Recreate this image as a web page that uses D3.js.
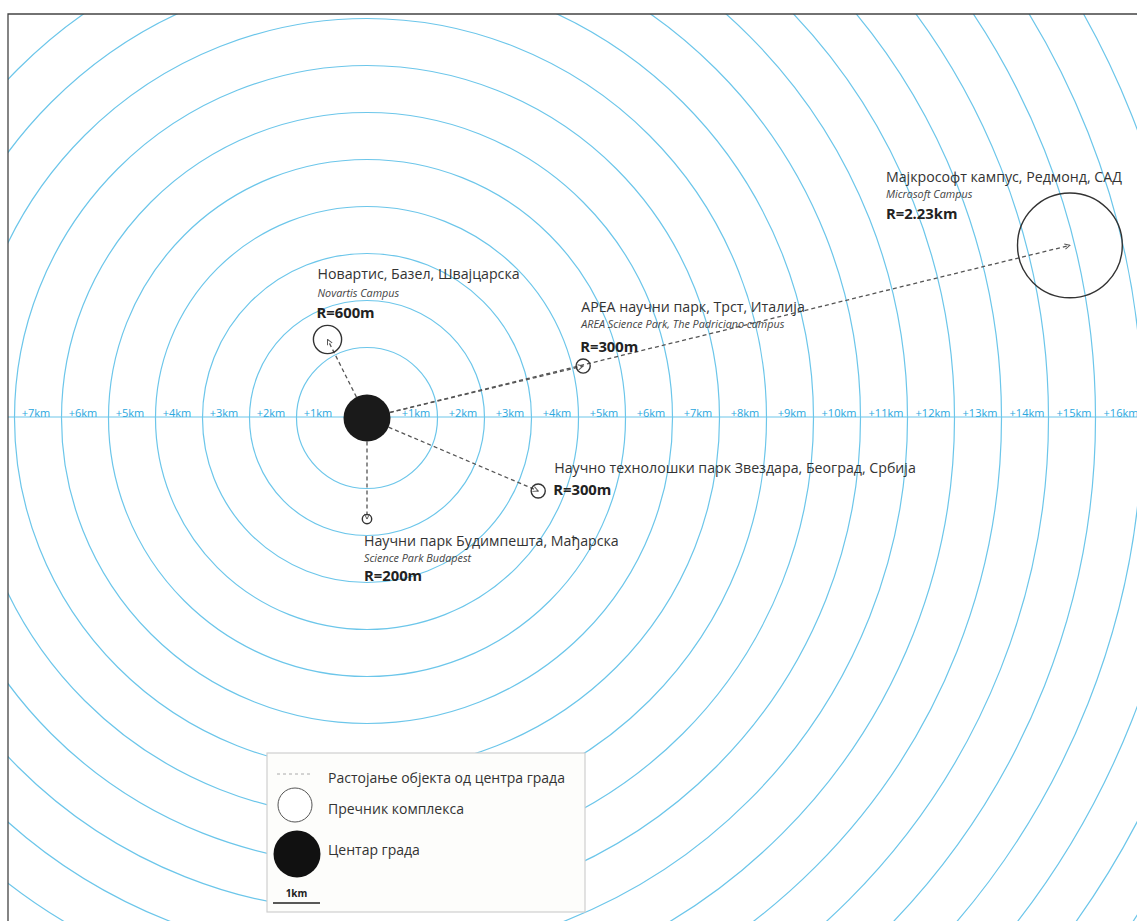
<!DOCTYPE html>
<html><head><meta charset="utf-8">
<script src="https://cdn.jsdelivr.net/npm/d3@7"></script>
<style>
html,body{margin:0;padding:0;background:#fff;}
svg{display:block;font-family:"Open Sans","Noto Sans",sans-serif;}
</style></head>
<body><svg id="c" width="1137" height="921"></svg>
<script>
// ---- data ----
const ringKm = d3.range(1, 21);                 // rings every 1 km from the centre edge
const leftTickKm = d3.range(1, 8);               // +1km .. +7km on the left
const rightTickKm = d3.range(1, 17);             // +1km .. +16km on the right
const cityCentreDiameterKm = 1;
const siteTitles = ["Новартис, Базел, Швајцарска", "АРЕА научни парк, Трст, Италија", "Мајкрософт кампус, Редмонд, САД", "Научно технолошки парк Звездара, Београд, Србија", "Научни парк Будимпешта, Мађарска"];
const siteSubtitles = ["Novartis Campus", "AREA Science Park, The Padriciano campus", "Microsoft Campus", "", "Science Park Budapest"];
const siteRLabels = ["R=600m", "R=300m", "R=2.23km", "R=300m", "R=200m"];
const siteDiameterKm = [0.6, 0.3, 2.23, 0.3, 0.2];
const siteDistanceKm = [1.87, 4.73, 15.40, 3.96, 2.15];   // distance of complex centre from city centre
const siteAngleDeg = [-116.7, -13.5, -13.8, 23.1, 90];     // direction (screen coords, 0 = east)
const legendLabels = ["Растојање објекта од центра града", "Пречник комплекса", "Центар града"];
const scaleLabel = "1km";

// ---- layout ----
const W = 1137, H = 921;
const cx = 367, cy = 418;
const frame = {x: 8, y: 14};
const km = d3.scaleLinear().domain([0, 1]).range([0, 47]);
const ringColor = "#6cc6ea", labelColor = "#2aa7de", textColor = "#333";

const svg = d3.select("#c");
svg.append("rect").attr("width", W).attr("height", H).attr("fill", "#fff");
const defs = svg.append("defs");
defs.append("clipPath").attr("id", "clip").append("rect")
  .attr("x", frame.x).attr("y", frame.y).attr("width", W - frame.x).attr("height", H - frame.y);
defs.append("marker").attr("id", "arr").attr("viewBox", "0 0 10 10").attr("refX", 9).attr("refY", 5)
  .attr("markerWidth", 5).attr("markerHeight", 5).attr("orient", "auto")
  .append("path").attr("d", "M1,1 L9,5 L1,9").attr("fill", "none").attr("stroke", "#555").attr("stroke-width", 1.5);

const g = svg.append("g").attr("clip-path", "url(#clip)");
const r0 = km(cityCentreDiameterKm / 2);

// rings
g.selectAll("circle.ring").data(ringKm).join("circle").attr("class", "ring")
  .attr("cx", cx).attr("cy", cy).attr("r", d => r0 + km(d))
  .attr("fill", "none").attr("stroke", ringColor).attr("stroke-width", 1.2);

// horizontal axis line
g.append("line").attr("x1", frame.x).attr("x2", W).attr("y1", cy - 1).attr("y2", cy - 1)
  .attr("stroke", ringColor).attr("stroke-width", 1.1);

// tick labels
const tickY = cy - 1;
g.selectAll("text.lt").data(leftTickKm).join("text").attr("class", "lt")
  .attr("x", d => cx - r0 - km(d - 0.5) - 2).attr("y", tickY).attr("text-anchor", "middle")
  .attr("font-size", 11).attr("fill", labelColor).text(d => "+" + d + "km");
g.selectAll("text.rt").data(rightTickKm).join("text").attr("class", "rt")
  .attr("x", d => cx + r0 + km(d - 0.5) + 2).attr("y", tickY).attr("text-anchor", "middle")
  .attr("font-size", 11).attr("fill", labelColor).text(d => "+" + d + "km");

// sites
const sites = siteTitles.map((t, i) => {
  const a = siteAngleDeg[i] * Math.PI / 180;
  return {
    title: t, sub: siteSubtitles[i], rl: siteRLabels[i], dia: siteDiameterKm[i],
    a, x: cx + km(siteDistanceKm[i]) * Math.cos(a), y: cy + km(siteDistanceKm[i]) * Math.sin(a)
  };
});

// dashed distance lines
g.selectAll("line.dist").data(sites).join("line").attr("class", "dist")
  .attr("x1", d => cx + r0 * Math.cos(d.a)).attr("y1", d => cy + r0 * Math.sin(d.a))
  .attr("x2", d => d.x).attr("y2", d => d.y)
  .attr("stroke", "#555").attr("stroke-width", 1.3).attr("stroke-dasharray", "4,3")
  .attr("marker-end", "url(#arr)");

// complex circles
g.selectAll("circle.site").data(sites).join("circle").attr("class", "site")
  .attr("cx", d => d.x).attr("cy", d => d.y).attr("r", d => km(d.dia / 2))
  .attr("fill", "none").attr("stroke", "#333").attr("stroke-width", 1.4);

// city centre
g.append("circle").attr("cx", cx).attr("cy", cy).attr("r", r0).attr("fill", "#1a1a1a");

// site labels (anchor offsets relative to site centre)
const labelOffsets = [
  {tx: -10, ty: -60, sy: -42, rx: -11, ry: -21},
  {tx: -2, ty: -54, sy: -38, rx: -3, ry: -14},
  {tx: -184, ty: -63, sy: -47, rx: -184, ry: -26},
  {tx: 16, ty: -18, sy: null, rx: 15, ry: 4},
  {tx: -3, ty: 27, sy: 43, rx: -3, ry: 62}
];
sites.forEach((s, i) => {
  const o = labelOffsets[i];
  g.append("text").attr("x", s.x + o.tx).attr("y", s.y + o.ty).attr("font-size", 14.2)
    .attr("fill", textColor).text(s.title);
  if (s.sub) g.append("text").attr("x", s.x + o.tx).attr("y", s.y + o.sy).attr("font-size", 10.8)
    .attr("font-style", "italic").attr("fill", "#444").text(s.sub);
  g.append("text").attr("x", s.x + o.rx).attr("y", s.y + o.ry).attr("font-size", 14.8)
    .attr("font-weight", "bold").attr("fill", "#222").text(s.rl);
});

// frame
svg.append("path").attr("d", `M${frame.x},${H} L${frame.x},${frame.y} L${W},${frame.y}`)
  .attr("fill", "none").attr("stroke", "#444").attr("stroke-width", 1.3);

// legend
const L = {x: 267, y: 753, w: 318, h: 159};
const lg = svg.append("g");
lg.append("rect").attr("x", L.x).attr("y", L.y).attr("width", L.w).attr("height", L.h)
  .attr("fill", "#fdfdfb").attr("stroke", "#cfcfcf").attr("stroke-width", 1.2);
lg.append("line").attr("x1", L.x + 10).attr("x2", L.x + 43).attr("y1", L.y + 21).attr("y2", L.y + 21)
  .attr("stroke", "#aaa").attr("stroke-width", 1).attr("stroke-dasharray", "3,3");
lg.append("circle").attr("cx", L.x + 28).attr("cy", L.y + 52).attr("r", 17)
  .attr("fill", "#fff").attr("stroke", "#555").attr("stroke-width", 1);
lg.append("circle").attr("cx", L.x + 30).attr("cy", L.y + 101).attr("r", r0).attr("fill", "#111");
const legendY = [L.y + 30, L.y + 61, L.y + 102];
lg.selectAll("text.li").data(legendLabels).join("text").attr("class", "li")
  .attr("x", L.x + 61).attr("y", (d, i) => legendY[i]).attr("font-size", 14)
  .attr("fill", textColor).text(d => d);
lg.append("line").attr("x1", L.x + 6).attr("x2", L.x + 6 + km(1)).attr("y1", L.y + 150).attr("y2", L.y + 150)
  .attr("stroke", "#222").attr("stroke-width", 1.5);
lg.append("text").attr("x", L.x + 6 + km(0.5)).attr("y", L.y + 144).attr("text-anchor", "middle")
  .attr("font-size", 10).attr("font-weight", "bold").attr("fill", "#222").text(scaleLabel);
</script>
</body></html>
